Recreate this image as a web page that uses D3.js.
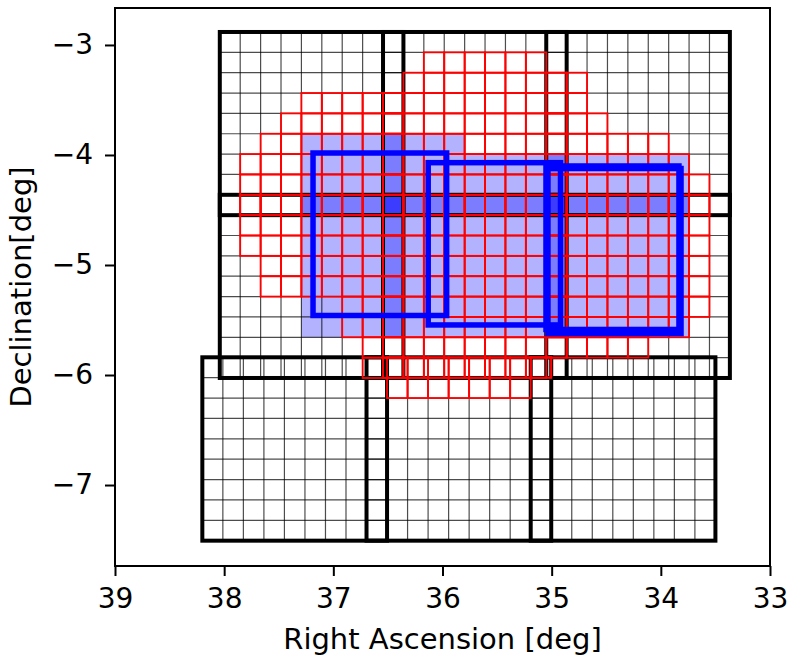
<!DOCTYPE html>
<html><head><meta charset="utf-8">
<script src="https://cdn.jsdelivr.net/npm/d3@7"></script>
<style>body{margin:0;background:#fff} svg{display:block} text{font-family:"DejaVu Sans",sans-serif}</style>
</head><body><svg id="c" width="790" height="655"></svg>
<script>
// ---- data ----
const xDomain=[39,33];
const yDomain=[-7.736,-2.664];
const xTicks=[39,38,37,36,35,34,33];
const yTicks=[-7,-6,-5,-4,-3];
const xLabel="Right Ascension [deg]";
const yLabel="Declination[deg]";
// cell grids: upper-left corner (RA, Dec in deg) and cell size in deg
const topGrid={ra0:38.04,dec0:-2.882,dra:0.1869,ddec:0.185};
const bottomGrid={ra0:38.20,dec0:-5.839,dra:0.188,ddec:0.1852};
const tileCells=9;
const topTiles=[[0,0],[0,8],[0,16],[8,0],[8,8],[8,16]];   // [row0,col0]
const bottomTiles=[[0,0],[0,8],[0,16]];
// red cells: [row, firstCol, lastCol]
const topRed=[[1,10,15],[2,9,17],[3,4,17],[4,3,18],[5,2,21],[6,1,22],[7,1,23],[8,1,23],
  [9,1,23],[10,1,23],[11,2,23],[12,2,23],[13,6,23],[14,6,22],[15,7,20],[16,7,15]];
const bottomRed=[[0,9,16],[1,9,15]];
// blue filled cells of the top grid: [firstRow,lastRow,firstCol,lastCol]
const blueFill=[[5,5,4,11],[6,14,4,22]];
// blue footprints: [raLeft, raRight, decTop, decBottom]
const blueRects=[[37.186,35.962,-3.982,-5.459],[36.131,34.919,-4.070,-5.545],
  [35.052,33.834,-4.100,-5.586],[35.034,33.815,-4.123,-5.623]];

// ---- drawing ----
const W=790,H=655,m={l:115,r:20,t:8,b:89};
const xs=d3.scaleLinear().domain(xDomain).range([m.l,W-m.r]);
const ys=d3.scaleLinear().domain(yDomain).range([H-m.b,m.t]);
const svg=d3.select("#c");
svg.append("clipPath").attr("id","clip").append("rect")
  .attr("x",m.l).attr("y",m.t).attr("width",W-m.l-m.r).attr("height",H-m.t-m.b);
const g=svg.append("g").attr("clip-path","url(#clip)");

function cell(grid,r,c,nr=1,nc=1){
  const x1=xs(grid.ra0-c*grid.dra),x2=xs(grid.ra0-(c+nc)*grid.dra);
  const y1=ys(grid.dec0-r*grid.ddec),y2=ys(grid.dec0-(r+nr)*grid.ddec);
  return {x:Math.min(x1,x2),y:Math.min(y1,y2),w:Math.abs(x2-x1),h:Math.abs(y2-y1)};
}
const inFill=(r,c)=>blueFill.some(([a,b,ca,cb])=>r>=a&&r<=b&&c>=ca&&c<=cb);
const inRed=(list,r,c)=>list.some(([rr,ca,cb])=>r===rr&&c>=ca&&c<=cb);

// blue fill per tile
const gf=g.append("g");
topTiles.forEach(([r0,c0])=>{
  for(let r=r0;r<r0+tileCells;r++)for(let c=c0;c<c0+tileCells;c++){
    if(inFill(r,c)){const b=cell(topGrid,r,c);
      gf.append("rect").attr("x",b.x).attr("y",b.y).attr("width",b.w).attr("height",b.h)
        .attr("fill","blue").attr("fill-opacity",0.3);}
  }
});

// black tile grids
const gb=g.append("g");
function drawTiles(grid,tiles){
  tiles.forEach(([r0,c0])=>{
    const T=cell(grid,r0,c0,tileCells,tileCells);
    for(let k=1;k<tileCells;k++){
      const x=xs(grid.ra0-(c0+k)*grid.dra);
      gb.append("line").attr("x1",x).attr("x2",x).attr("y1",T.y).attr("y2",T.y+T.h)
        .attr("stroke","#000").attr("stroke-opacity",0.7).attr("stroke-width",1.2);
      const y=ys(grid.dec0-(r0+k)*grid.ddec);
      gb.append("line").attr("y1",y).attr("y2",y).attr("x1",T.x).attr("x2",T.x+T.w)
        .attr("stroke","#000").attr("stroke-opacity",0.7).attr("stroke-width",1.2);
    }
  });
  tiles.forEach(([r0,c0])=>{
    const T=cell(grid,r0,c0,tileCells,tileCells);
    gb.append("rect").attr("x",T.x).attr("y",T.y).attr("width",T.w).attr("height",T.h)
      .attr("fill","none").attr("stroke","#000").attr("stroke-width",4);
  });
}
drawTiles(topGrid,topTiles);
drawTiles(bottomGrid,bottomTiles);

// red cells
const gr=g.append("g");
function drawRed(grid,tiles,list){
  tiles.forEach(([r0,c0])=>{
    for(let r=r0;r<r0+tileCells;r++)for(let c=c0;c<c0+tileCells;c++){
      if(inRed(list,r,c)){const b=cell(grid,r,c);
        gr.append("rect").attr("x",b.x).attr("y",b.y).attr("width",b.w).attr("height",b.h)
          .attr("fill","none").attr("stroke","red").attr("stroke-width",1.8);}
    }
  });
}
drawRed(topGrid,topTiles,topRed);
drawRed(bottomGrid,bottomTiles,bottomRed);

// blue outlines
g.append("g").selectAll("rect").data(blueRects).join("rect")
  .attr("x",d=>xs(d[0])).attr("y",d=>ys(d[2]))
  .attr("width",d=>xs(d[1])-xs(d[0])).attr("height",d=>ys(d[3])-ys(d[2]))
  .attr("fill","none").attr("stroke","blue").attr("stroke-width",5.5).attr("stroke-linejoin","miter");

// axes
const fmt=d3.format("d");
const ax=svg.append("g").attr("transform",`translate(0,${H-m.b})`)
  .call(d3.axisBottom(xs).tickValues(xTicks).tickFormat(fmt).tickSize(10).tickPadding(12));
const ay=svg.append("g").attr("transform",`translate(${m.l},0)`)
  .call(d3.axisLeft(ys).tickValues(yTicks).tickFormat(fmt).tickSize(10).tickPadding(12));
[ax,ay].forEach(a=>{a.select(".domain").remove();
  a.selectAll(".tick line").attr("stroke","#000").attr("stroke-width",2);
  a.selectAll(".tick text").attr("fill","#000").style("font-size","28px").style("font-family","DejaVu Sans");});
svg.append("rect").attr("x",m.l).attr("y",m.t).attr("width",W-m.l-m.r).attr("height",H-m.t-m.b)
  .attr("fill","none").attr("stroke","#000").attr("stroke-width",2);
svg.append("text").attr("x",(m.l+W-m.r)/2).attr("y",649).attr("text-anchor","middle")
  .style("font-size","29px").text(xLabel);
svg.append("text").attr("transform",`translate(31,${(m.t+H-m.b)/2}) rotate(-90)`).attr("text-anchor","middle")
  .style("font-size","29px").text(yLabel);
</script></body></html>
